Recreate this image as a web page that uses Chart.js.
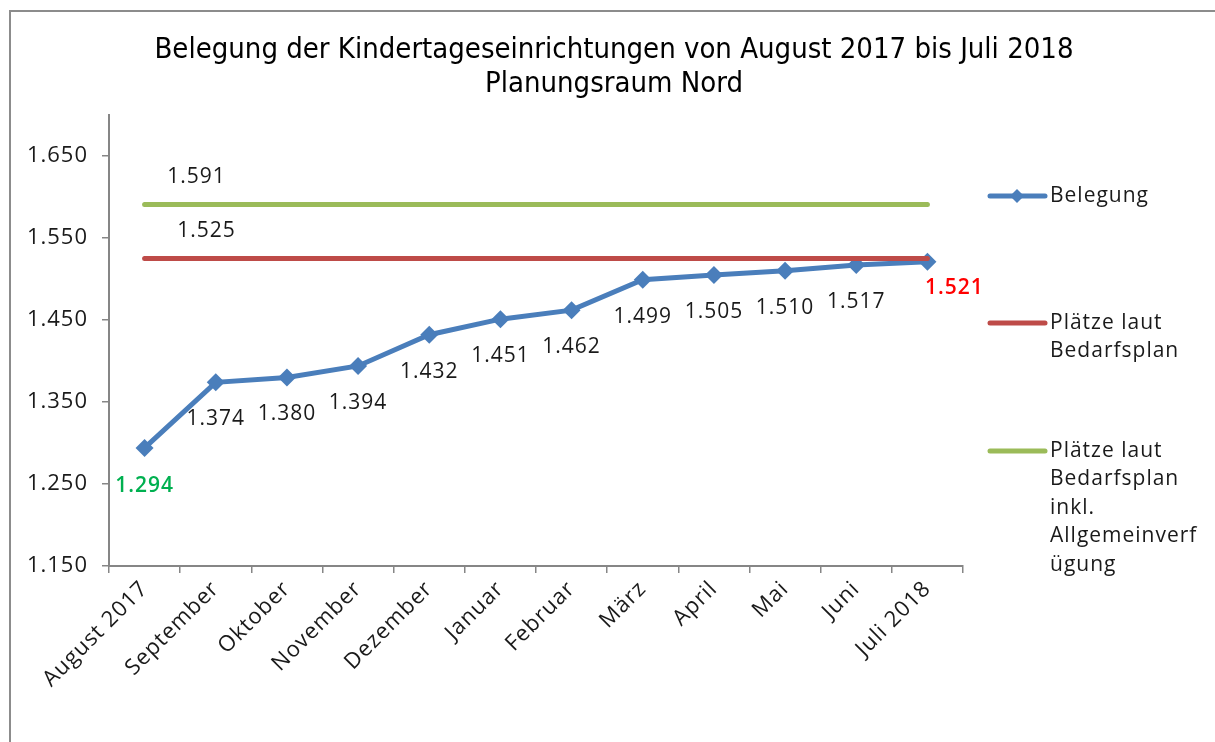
<!DOCTYPE html>
<html>
<head>
<meta charset="utf-8">
<script src="https://cdn.jsdelivr.net/npm/chart.js@4.4.1/dist/chart.umd.min.js"></script>
<style>
html,body{margin:0;padding:0;background:#fff;overflow:hidden}
#wrap{position:relative;width:1215px;height:742px}
#frame{position:absolute;left:9px;top:10px;width:1300px;height:900px;border:2px solid #8c8c8c;box-sizing:border-box}
#c{position:absolute;left:0;top:0}
</style>
</head>
<body>
<div id="wrap">
  <div id="frame"></div>
  <canvas id="c" width="1215" height="742"></canvas>
</div>
<script>
// ── DATA ──
const months=['August 2017','September','Oktober','November','Dezember','Januar','Februar','März','April','Mai','Juni','Juli 2018'];
const belegung=[1294,1374,1380,1394,1432,1451,1462,1499,1505,1510,1517,1521];
const plaetze=[1525,1525,1525,1525,1525,1525,1525,1525,1525,1525,1525,1525];
const plaetzeAv=[1591,1591,1591,1591,1591,1591,1591,1591,1591,1591,1591,1591];
const yTicks=[1150,1250,1350,1450,1550,1650];
const titleLines=['Belegung der Kindertageseinrichtungen von August 2017 bis Juli 2018','Planungsraum Nord'];
const legendItems=[
  {lines:['Belegung'],color:'#4a7ebb',marker:true},
  {lines:['Plätze laut','Bedarfsplan'],color:'#be4b48',marker:false},
  {lines:['Plätze laut','Bedarfsplan','inkl.','Allgemeinverf','ügung'],color:'#9bbb59',marker:false}
];

const BODY_FONT='"Open Sans","Noto Sans",sans-serif';
const TITLE_FONT='"Liberation Sans Narrow","DejaVu Sans Condensed",sans-serif';
const TXT='#1a1a1a';
const AXIS='#868686';
const fmt=v=>{const s=String(v);return s.length>3?s.slice(0,-3)+'.'+s.slice(-3):s};
const spacing=(ctx,v)=>{try{ctx.letterSpacing=v}catch(e){}};

// looser text like the office original
const textSpacing={
  id:'textSpacing',
  beforeLayout(chart){spacing(chart.ctx,'1px')},
  beforeDraw(chart){spacing(chart.ctx,'1px')}
};

// two-line title centred on the whole frame
const frameTitle={
  id:'frameTitle',
  afterDraw(chart){
    const ctx=chart.ctx;
    ctx.save();spacing(ctx,'0px');
    ctx.font='normal 29px '+TITLE_FONT;ctx.fillStyle='#000';
    ctx.textAlign='center';ctx.textBaseline='middle';
    ctx.fillText(titleLines[0],614,50);
    ctx.fillText(titleLines[1],614,84);
    ctx.restore();
  }
};

// value labels (Excel-style data labels)
const valueLabels={
  id:'valueLabels',
  afterDatasetsDraw(chart){
    const ctx=chart.ctx;
    ctx.save();spacing(ctx,'1px');
    ctx.textAlign='center';ctx.textBaseline='middle';
    const mb=chart.getDatasetMeta(0);
    mb.data.forEach((pt,i)=>{
      let dx=0,dy=37,col=TXT,w='normal';
      if(i===0){dy=38;col='#00b050';w='600'}
      if(i===belegung.length-1){dx=27;dy=26;col='#ff0000';w='600'}
      ctx.font=w+' 21px '+BODY_FONT;ctx.fillStyle=col;
      ctx.fillText(fmt(belegung[i]),pt.x+dx,pt.y+dy);
    });
    ctx.font='normal 21px '+BODY_FONT;ctx.fillStyle=TXT;
    const mr=chart.getDatasetMeta(1).data[0];
    ctx.fillText(fmt(plaetze[0]),mr.x+62,mr.y-27);
    const mg=chart.getDatasetMeta(2).data[0];
    ctx.fillText(fmt(plaetzeAv[0]),mg.x+52,mg.y-27);
    ctx.restore();
  }
};

// legend on the right with wrapped text
const sideLegend={
  id:'sideLegend',
  afterDraw(chart){
    const ctx=chart.ctx;
    const x0=990,x1=1045,tx=1050,lh=28.5;
    const ys=[196,323,451];
    ctx.save();spacing(ctx,'1px');
    legendItems.forEach((it,k)=>{
      const y=ys[k];
      ctx.strokeStyle=it.color;ctx.lineWidth=5;ctx.lineCap='round';
      ctx.beginPath();ctx.moveTo(x0,y);ctx.lineTo(x1,y);ctx.stroke();
      if(it.marker){
        ctx.fillStyle=it.color;ctx.beginPath();
        ctx.moveTo(1017,y-7);ctx.lineTo(1024,y);ctx.lineTo(1017,y+7);ctx.lineTo(1010,y);ctx.closePath();ctx.fill();
      }
      ctx.fillStyle=TXT;ctx.font='normal 21px '+BODY_FONT;
      ctx.textAlign='left';ctx.textBaseline='middle';
      it.lines.forEach((t,j)=>ctx.fillText(t,tx,y+j*lh));
    });
    ctx.restore();
  }
};

new Chart(document.getElementById('c'),{
  type:'line',
  data:{labels:months,datasets:[
    {label:'Belegung',data:belegung,borderColor:'#4a7ebb',backgroundColor:'#4a7ebb',borderWidth:5,
      pointStyle:'rectRot',pointRadius:9,pointBorderWidth:0,pointBackgroundColor:'#4a7ebb',tension:0,order:3},
    {label:'Plätze laut Bedarfsplan',data:plaetze,borderColor:'#be4b48',borderWidth:5,borderCapStyle:'round',pointRadius:0,order:2},
    {label:'Plätze laut Bedarfsplan inkl. Allgemeinverfügung',data:plaetzeAv,borderColor:'#9bbb59',borderWidth:5,borderCapStyle:'round',pointRadius:0,order:1}
  ]},
  options:{
    responsive:false,animation:false,
    layout:{padding:{top:115,left:0,right:252,bottom:0}},
    plugins:{legend:{display:false},tooltip:{enabled:false},title:{display:false}},
    scales:{
      x:{type:'category',offset:true,
        grid:{offset:true,drawOnChartArea:false,tickLength:7,color:AXIS,lineWidth:1.5},
        border:{color:AXIS,width:2},
        ticks:{maxRotation:45,minRotation:45,autoSkip:false,color:TXT,font:{family:BODY_FONT,size:22},padding:3},
        afterFit(s){s.height=176}},
      y:{min:1150,max:1700,
        afterBuildTicks(s){s.ticks=yTicks.map(v=>({value:v}))},
        grid:{drawOnChartArea:false,tickLength:7,color:AXIS,lineWidth:1.5},
        border:{color:AXIS,width:2},
        ticks:{color:TXT,font:{family:BODY_FONT,size:22},padding:14,callback:v=>fmt(v)},
        afterFit(s){s.width=109}}
    }
  },
  plugins:[textSpacing,frameTitle,valueLabels,sideLegend]
});
</script>
</body>
</html>
